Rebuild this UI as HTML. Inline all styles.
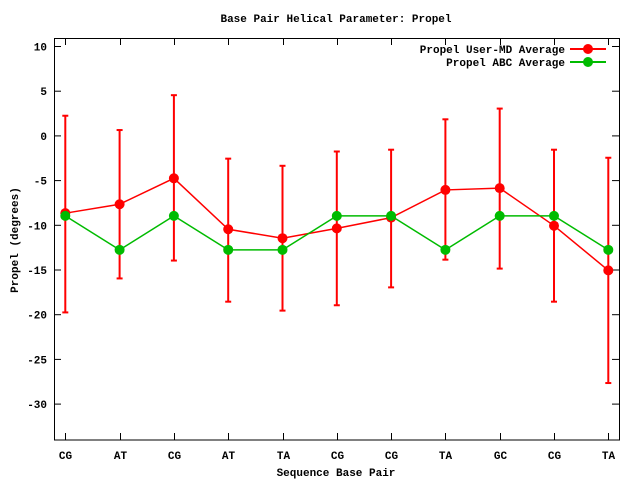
<!DOCTYPE html>
<html><head><style>body{margin:0;background:#fff}svg{display:block}text{font-family:"Liberation Mono",monospace;font-weight:bold;font-size:11px;fill:#000}</style></head>
<body>
<svg width="640" height="480" xmlns="http://www.w3.org/2000/svg">
<text x="336" y="22" text-anchor="middle">Base Pair Helical Parameter: Propel</text>
<rect x="54.5" y="38.5" width="565" height="401.5" fill="none" stroke="#000"/>
<g id="ticks"></g>
<text x="0" y="0" transform="translate(18,240) rotate(-90)" text-anchor="middle">Propel (degrees)</text>
<text x="336" y="476" text-anchor="middle">Sequence Base Pair</text>
<text x="565" y="53" text-anchor="end">Propel User-MD Average</text>
<text x="565" y="66" text-anchor="end">Propel ABC Average</text>
<line x1="570" y1="49" x2="606" y2="49" stroke="#f00" stroke-width="2"/>
<circle cx="588" cy="49" r="5" fill="#f00"/>
<line x1="570" y1="62" x2="606" y2="62" stroke="#0b0" stroke-width="2"/>
<circle cx="588" cy="62" r="5" fill="#0b0"/>
<g id="data"></g>
</svg>
<script>
const NS="http://www.w3.org/2000/svg";
function el(p,t,a,txt){const e=document.createElementNS(NS,t);for(const k in a)e.setAttribute(k,a[k]);if(txt!==undefined)e.textContent=txt;document.getElementById(p).appendChild(e);return e;}
const Y=v=>46+(10-v)*8.94, X=i=>65.3+i*54.3;
for(let v=10;v>=-30;v-=5){const y=Y(v)+0.5;el('ticks','line',{x1:54,x2:61,y1:y,y2:y,stroke:'#000'});el('ticks','line',{x1:612,x2:619,y1:y,y2:y,stroke:'#000'});el('ticks','text',{x:47,y:y+4,'text-anchor':'end'},String(v));}
const labs=['CG','AT','CG','AT','TA','CG','CG','TA','GC','CG','TA'];
labs.forEach((l,i)=>{const x=Math.round(X(i))+0.5;el('ticks','line',{x1:x,x2:x,y1:440,y2:433,stroke:'#000'});el('ticks','line',{x1:x,x2:x,y1:38,y2:45,stroke:'#000'});el('ticks','text',{x:x,y:459,'text-anchor':'middle'},l);});
const r=[-8.7,-7.7,-4.8,-10.5,-11.5,-10.4,-9.2,-6.1,-5.9,-10.1,-15.1];
const hi=[2.2,0.6,4.5,-2.6,-3.4,-1.8,-1.6,1.8,3,-1.6,-2.5];
const lo=[-19.8,-16,-14,-18.6,-19.6,-19,-17,-13.9,-14.9,-18.6,-27.7];
const g=[-9,-12.8,-9,-12.8,-12.8,-9,-9,-12.8,-9,-9,-12.8];
r.forEach((v,i)=>{const x=X(i);el('data','line',{x1:x,x2:x,y1:Y(hi[i]),y2:Y(lo[i]),stroke:'#f00','stroke-width':2});
[hi[i],lo[i]].forEach(w=>el('data','line',{x1:x-3,x2:x+3,y1:Y(w),y2:Y(w),stroke:'#f00','stroke-width':2}));});
el('data','polyline',{points:r.map((v,i)=>X(i)+','+Y(v)).join(' '),fill:'none',stroke:'#f00','stroke-width':1.5});
r.forEach((v,i)=>el('data','circle',{cx:X(i),cy:Y(v),r:5,fill:'#f00'}));
el('data','polyline',{points:g.map((v,i)=>X(i)+','+Y(v)).join(' '),fill:'none',stroke:'#0b0','stroke-width':1.5});
g.forEach((v,i)=>el('data','circle',{cx:X(i),cy:Y(v),r:5,fill:'#0b0'}));
</script>
</body></html>
